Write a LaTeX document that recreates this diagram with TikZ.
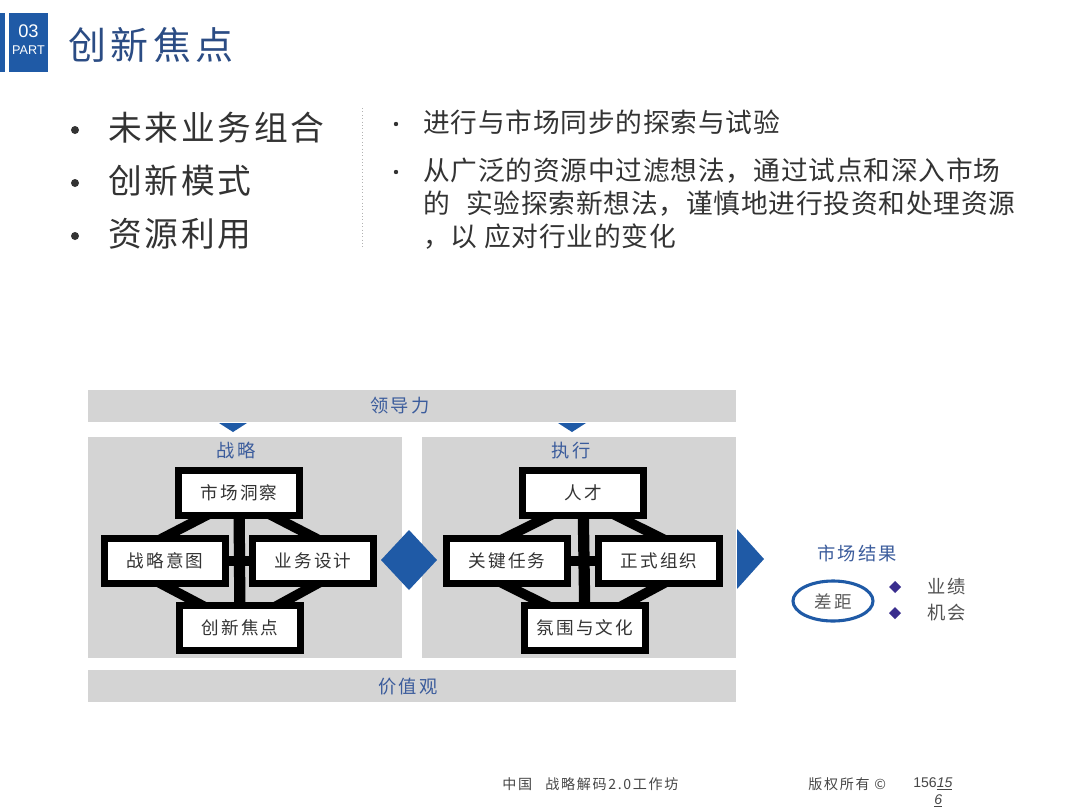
\documentclass[tikz,border=0pt]{standalone}
\usepackage{fontspec}
\setmainfont{Noto Sans CJK SC}
\newfontfamily\spaced{Noto Sans CJK SC}[LetterSpace=12]
\newfontfamily\wide{Noto Sans CJK SC}[LetterSpace=8]
\newfontfamily\loose{Noto Sans CJK SC}[LetterSpace=3]
\newfontfamily\latinfont{Liberation Sans}
\usetikzlibrary{positioning,shapes.geometric,calc}

\definecolor{partblue}{HTML}{1F5AA6}
\definecolor{titleblue}{HTML}{2B4C84}
\definecolor{labelblue}{HTML}{3B5C9C}
\definecolor{panelgray}{HTML}{D4D4D4}
\definecolor{bodygray}{HTML}{333333}
\definecolor{pointpurple}{HTML}{3A2E8E}

\pgfdeclarelayer{panel}
\pgfdeclarelayer{links}
\pgfsetlayers{panel,links,main}

\tikzset{
  cardbox/.style={draw=black, line width=5pt, fill=white, minimum width=3.025cm,
    minimum height=1.125cm, inner sep=0pt, text=bodygray, font=\spaced\fontsize{12.5}{14}\selectfont},
  link/.style={black, line width=7pt},
  tag/.style={text=labelblue, inner sep=0pt, font=\spaced\fontsize{13}{15}\selectfont},
  bigitem/.style={anchor=west, inner sep=0pt, text=bodygray, font=\wide\fontsize{24}{28}\selectfont},
  smallitem/.style={anchor=north west, inner sep=0pt, align=left, text=bodygray,
    font=\loose\fontsize{19}{23.4}\selectfont},
  foot/.style={anchor=west, inner sep=0pt, text=bodygray!90, font=\spaced\fontsize{10}{11}\selectfont},
}

\begin{document}
\begin{tikzpicture}[x=0.025cm, y=-0.025cm]
\useasboundingbox (0,0) rectangle (1080,810);
\begin{pgfonlayer}{panel}
\fill[white] (0,0) rectangle (1080,810);
\end{pgfonlayer}

% header
\fill[partblue] (0,13) rectangle (5,72);
\fill[partblue] (9,13) rectangle (48,72);
\node[text=white, inner sep=0pt, font=\latinfont\fontsize{13}{13}\selectfont] (partno) at (28.5,31) {03};
\node[text=white, inner sep=0pt, font=\latinfont\fontsize{9}{9}\selectfont] (partword) at (28.5,50) {PART};
\node[anchor=west, inner sep=0pt, text=titleblue, font=\spaced\fontsize{27}{30}\selectfont] (title) at (68,45) {创新焦点};

% bullets
\foreach \y/\txt in {128/未来业务组合, 181/创新模式, 234/资源利用} {
  \fill[bodygray] (75,\y+2) circle (4);
  \node[bigitem] at (108,\y) {\txt};
}
\draw[gray!60, dotted] (362,108) -- (362,248);
\fill[bodygray] (396,124) circle (2.2);
\fill[bodygray] (396,172) circle (2.2);
\node[smallitem] (exp) at (423,110) {进行与市场同步的探索与试验};
\node[smallitem] (filt) at (423,158) {从广泛的资源中过滤想法，通过试点和深入市场\\的\hspace{0.6em}实验探索新想法，谨慎地进行投资和处理资源\\，以 应对行业的变化};

% frame
\begin{pgfonlayer}{panel}
\fill[panelgray] (88,390) rectangle (736,422);
\fill[panelgray] (88,437) rectangle (402,658);
\fill[panelgray] (422,437) rectangle (736,658);
\fill[panelgray] (88,670) rectangle (736,702);
\end{pgfonlayer}
\node[tag] (lead) at (400,406) {领导力};
\node[tag] (values) at (408,687) {价值观};
\node[tag] (strat) at (236,451) {战略};
\node[tag] (exec) at (571,451) {执行};
\fill[partblue] (219,423) -- (247,423) -- (233,432) -- cycle;
\fill[partblue] (558,423) -- (586,423) -- (572,432) -- cycle;
\fill[partblue] (381,560) -- (409,530) -- (437,560) -- (409,590) -- cycle;
\fill[partblue] (737,529) -- (764,559) -- (737,589) -- cycle;

% boxes
\node[cardbox] (insight) at (239,493) {市场洞察};
\node[cardbox] (intent) at (165,561) {战略意图};
\node[cardbox] (design) at (313,561) {业务设计};
\node[cardbox] (focus) at (240,628) {创新焦点};
\node[cardbox] (talent) at (583,493) {人才};
\node[cardbox] (task) at (507,561) {关键任务};
\node[cardbox] (org) at (659,561) {正式组织};
\node[cardbox] (culture) at (585,628) {氛围与文化};

\begin{pgfonlayer}{links}
\foreach \t/\l/\r/\b in {insight/intent/design/focus, talent/task/org/culture} {
  \draw[link, line width=8pt] (\t) -- (\b);
  \draw[link, line width=6.5pt] (\l) -- (\r);
  \draw[link] ([shift={(-24,-8)}]\t.south) -- ([shift={(-10,7)}]\l.north);
  \draw[link] ([shift={(24,-8)}]\t.south) -- ([shift={(10,7)}]\r.north);
  \draw[link] ([shift={(-11,-7)}]\l.south) -- ([shift={(-31,7)}]\b.north);
  \draw[link] ([shift={(11,-7)}]\r.south) -- ([shift={(31,7)}]\b.north);
}
\end{pgfonlayer}

% market result
\node[tag] (result) at (857,553) {市场结果};
\node[ellipse, draw=partblue, line width=2.2pt, minimum width=2.0cm, minimum height=1.0cm,
  inner sep=0pt, text=bodygray!80, font=\spaced\fontsize{12.5}{14}\selectfont] (gap) at (833,601) {差距};
\fill[pointpurple] (895,581) -- (901,587) -- (895,593) -- (889,587) -- cycle;
\fill[pointpurple] (895,607) -- (901,613) -- (895,619) -- (889,613) -- cycle;
\node[anchor=west, inner sep=0pt, text=bodygray!85, font=\spaced\fontsize{13}{15}\selectfont] (perf) at (927,587) {业绩};
\node[anchor=west, inner sep=0pt, text=bodygray!85, font=\spaced\fontsize{13}{15}\selectfont] (chance) at (927,613) {机会};

% footer
\node[foot] (china) at (502,784) {中国};
\node[foot] (workshop) at (545,784) {战略解码2.0工作坊};
\node[foot] (copy) at (808,784) {版权所有 ©};
\node[foot, font=\latinfont\fontsize{10}{11}\selectfont] (page) at (913,784) {156\underline{\textit{15}}};
\node[foot, font=\latinfont\fontsize{10}{11}\selectfont] (pagetail) at (934,801) {\underline{\textit{6}}};
\end{tikzpicture}
\end{document}
